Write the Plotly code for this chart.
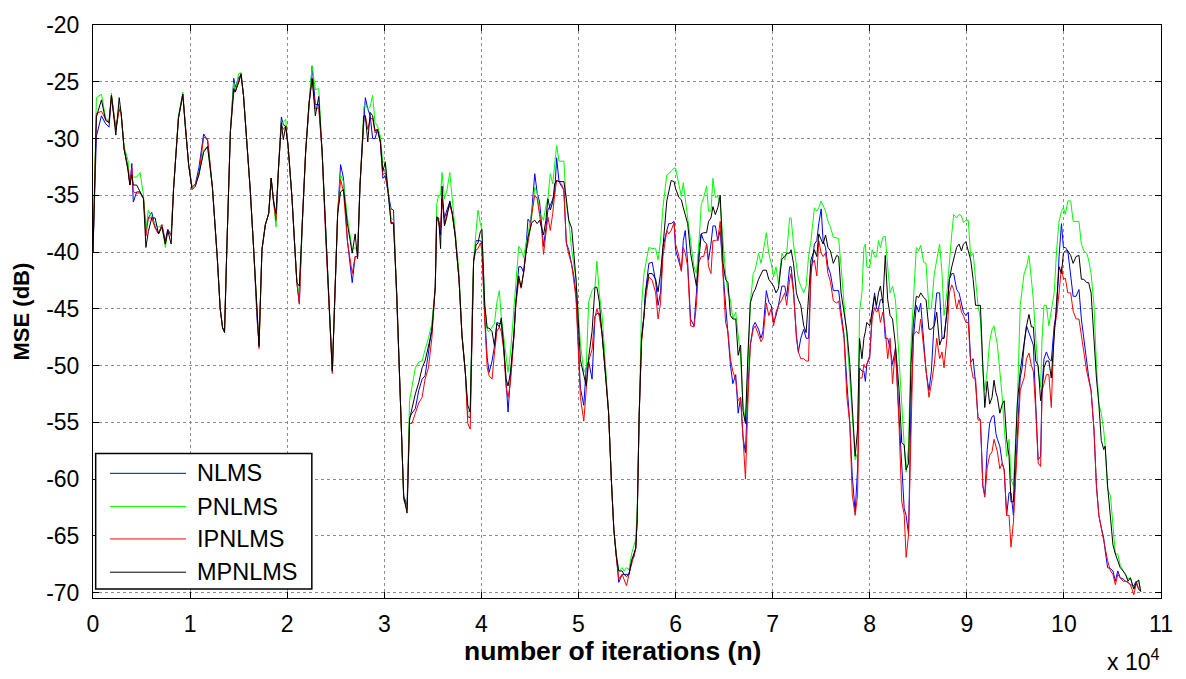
import plotly.graph_objects as go

# Iteration index of each MSE sample
n_iter = [
    0, 350, 870, 1300, 1650, 1900, 2350, 2700, 2900, 3200,
    3600, 3800, 4000, 4150, 4500, 4850, 5200, 5450, 5700, 6050,
    6400, 6750, 7100, 7450, 7700, 8050, 8300, 8800, 9250, 9500,
    9850, 10200, 10550, 10900, 11400, 11800, 12300, 12800, 13100, 13350,
    13550, 13800, 14150, 14500, 14650, 15000, 15250, 15500, 15850, 16200,
    16550, 16900, 17100, 17400, 17750, 18100, 18350, 18600, 18850, 19100,
    19400, 19600, 19850, 20100, 20500, 20800, 21000, 21250, 21550, 21900,
    22250, 22570, 22900, 23250, 23600, 23950, 24300, 24650, 24900, 25200,
    25500, 25800, 26200, 26700, 27000, 27250, 27500, 27900, 28050, 28300,
    28550, 28800, 29050, 29300, 29600, 29850, 30100, 30450, 30700, 30950,
    31300, 31650, 32000, 32350, 32600, 32850, 33200, 33550, 33900, 34200,
    34550, 34900, 35250, 35400, 35600, 35800, 35950, 36200, 36450, 36750,
    37000, 37300, 37700, 38000, 38350, 38600, 38850, 39050, 39200, 39450,
    39650, 39900, 40050, 40350, 40600, 40800, 41100, 41350, 41600, 41850,
    42050, 42300, 42550, 42750, 43000, 43350, 43550, 43850, 44100, 44350,
    44550, 44800, 45050, 45200, 45500, 45750, 46000, 46200, 46400, 46650,
    46850, 47100, 47350, 47550, 47750, 48000, 48250, 48500, 48750, 49000,
    49300, 49500, 49750, 50200, 50550, 50800, 51050, 51400, 51700, 51900,
    52150, 52450, 52800, 53100, 53400, 53650, 53900, 54150, 54500, 54700,
    54950, 55200, 55500, 55700, 55900, 56050, 56250, 56500, 56750, 56900,
    57250, 57600, 57950, 58200, 58450, 58700, 59100, 59300, 59550, 59850,
    60000, 60350, 60600, 60800, 61000, 61250, 61550, 61900, 62150, 62400,
    62650, 62900, 63200, 63400, 63650, 63850, 64100, 64350, 64600, 64900,
    65150, 65400, 65650, 65900, 66200, 66450, 66700, 66950, 67200, 67450,
    67700, 68000, 68200, 68550, 68800, 69000, 69350, 69600, 69850, 70100,
    70350, 70600, 70950, 71250, 71450, 71750, 71900, 72150, 72450, 72650,
    72900, 73200, 73450, 73700, 73950, 74300, 74550, 74750, 75000, 75200,
    75450, 75700, 75950, 76250, 76600, 76800, 77050, 77350, 77650, 77950,
    78200, 78500, 78750, 78950, 79200, 79400, 79550, 79700, 80000, 80250,
    80500, 80700, 80900, 81100, 81350, 81600, 81850, 82100, 82350, 82650,
    83000, 83300, 83550, 83750, 84000, 84250, 84500, 84800, 85050, 85250,
    85550, 85800, 86100, 86350, 86650, 86900, 87200, 87450, 87650, 87950,
    88200, 88450, 88650, 88950, 89200, 89450, 89650, 89900, 90150, 90400,
    90650, 90900, 91150, 91400, 91650, 91850, 92100, 92350, 92600, 92800,
    93000, 93150, 93400, 93650, 93850, 94100, 94350, 94550, 94800, 95200,
    95500, 95700, 95900, 96150, 96400, 96650, 96850, 97100, 97350, 97600,
    97750, 97950, 98200, 98450, 98700, 99000, 99250, 99500, 99750, 99950,
    100150, 100400, 100700, 100950, 101250, 101550, 101800, 102050, 102350, 102550,
    102800, 103100, 103350, 103600, 103850, 104100, 104250, 104500, 104800, 105050,
    105300, 105550, 105800, 106100, 106350, 106600, 106850, 107200, 107450, 107700,
    107900,
]

# MSE (dB) learning curves
nlms = [
    -40, -29.8, -28.0, -28.7, -29.0, -26.3, -29.2, -27.4, -27.8, -30.9,
    -32.5, -34.1, -32.2, -35.6, -34.7, -34.7, -35.3, -38.0, -37.0, -36.5,
    -37.8, -38.4, -37.6, -39.0, -38.0, -38.5, -34.4, -28.2, -26.1, -28.9,
    -32.3, -34.3, -34.0, -32.6, -29.6, -30.2, -34.3, -40.5, -45.0, -46.7,
    -46.8, -39.2, -29.4, -24.7, -25.5, -24.6, -24.5, -26.2, -30.4, -34.6,
    -39.8, -46.0, -48.0, -39.8, -37.6, -36.6, -33.5, -35.6, -37.3, -32.7,
    -28.1, -28.8, -28.9, -30.7, -35.3, -39.8, -42.7, -44.5, -37.5, -31.2,
    -26.9, -23.6, -27.0, -27.0, -31.2, -38.4, -44.2, -50.5, -44.0, -36.6,
    -32.3, -33.5, -39.0, -42.7, -40.4, -40.4, -34.1, -28.0, -26.4, -27.4,
    -28.0, -30.0, -30.0, -29.2, -30.3, -33.5, -33.3, -35.0, -36.2, -36.3,
    -44.0, -52.8, -61.5, -62.3, -54.6, -54.2, -53.8, -52.2, -51.2, -50.9,
    -48.9, -46.6, -43.1, -36.9, -37.3, -38.5, -35.3, -37.0, -36.3, -35.6,
    -36.6, -38.5, -42.4, -47.3, -50.6, -54.5, -54.6, -45.0, -40.8, -39.0,
    -39.0, -39.0, -39.2, -45.7, -49.3, -50.6, -49.6, -48.3, -46.2, -46.3,
    -46.3, -48.3, -51.5, -54.1, -50.9, -47.3, -44.4, -41.3, -41.3, -41.8,
    -40.2, -37.1, -37.4, -36.3, -33.1, -34.8, -35.6, -37.5, -39.5, -37.9,
    -36.3, -35.9, -35.3, -34.9, -31.7, -33.8, -34.2, -34.5, -39.2, -39.8,
    -41.1, -42.0, -43.7, -52.0, -53.5, -50.2, -49.6, -51.2, -45.7, -45.4,
    -45.4, -47.3, -50.6, -54.1, -60.3, -64.5, -66.8, -69.1, -68.4, -68.4,
    -68.4, -68.4, -67.1, -66.9, -66.1, -63.5, -54.5, -47.6, -45.6, -43.6,
    -41.0, -40.9, -42.6, -44.7, -43.6, -39.6, -38.1, -37.5, -37.5, -37.3,
    -39.8, -41.0, -41.6, -39.0, -38.1, -41.0, -45.9, -46.5, -43.6, -39.6,
    -38.4, -39.0, -39.3, -40.7, -39.3, -37.7, -37.7, -39.0, -38.1, -41.9,
    -44.7, -47.6, -49.9, -51.6, -50.8, -54.2, -52.8, -56.3, -57.7, -51.9,
    -48.2, -46.5, -46.2, -46.8, -47.6, -47.0, -43.4, -44.4, -44.7, -46.2,
    -45.6, -44.7, -43.0, -43.0, -43.9, -41.3, -41.3, -43.3, -47.6, -48.8,
    -47.6, -46.8, -47.6, -47.6, -41.9, -39.3, -39.0, -37.5, -36.2, -39.0,
    -39.6, -41.3, -41.9, -43.4, -43.4, -43.4, -45.3, -47.3, -51.6, -55.1,
    -59.7, -62.9, -59.1, -50.2, -50.5, -50.5, -51.4, -49.9, -49.3, -45.3,
    -43.6, -45.0, -45.0, -44.2, -44.2, -47.6, -47.6, -48.5, -49.9, -48.5,
    -54.2, -58.9, -62.6, -63.2, -64.9, -53.4, -47.6, -44.7, -45.3, -44.5,
    -47.6, -50.5, -52.2, -50.5, -45.9, -43.6, -43.6, -47.6, -47.6, -45.3,
    -42.4, -41.9, -41.9, -43.3, -43.6, -44.7, -45.3, -45.6, -45.3, -49.7,
    -49.4, -51.6, -54.5, -54.8, -60.6, -61.4, -57.4, -55.1, -54.5, -54.4,
    -56.0, -56.5, -57.1, -58.6, -59.2, -63.2, -61.2, -61.2, -63.2, -56.3,
    -51.1, -50.2, -48.2, -46.5, -47.1, -47.6, -48.2, -53.4, -58.3, -58.0,
    -52.0, -49.4, -48.8, -49.4, -49.6, -46.5, -45.3, -40.4, -37.5, -39.6,
    -39.6, -39.9, -42.3, -43.9, -43.9, -43.3, -45.9, -47.6, -50.0, -51.0,
    -52.2, -55.7, -60.6, -63.2, -64.3, -65.2, -66.3, -67.8, -67.9, -68.1,
    -69.0, -68.1, -68.7, -68.8, -69.0, -69.1, -69.3, -69.4, -69.0, -69.7,
    -69.9,
]

pnlms = [
    -40, -26.4, -26.1, -28.2, -28.5, -26.0, -29.2, -27.2, -27.8, -30.7,
    -31.9, -33.8, -33.3, -33.4, -33.4, -33.0, -35.0, -38.1, -36.3, -37.0,
    -37.6, -37.8, -37.6, -39.6, -38.2, -38.5, -34.4, -28.0, -25.9, -28.9,
    -32.3, -34.3, -34.0, -33.2, -31.0, -30.7, -34.3, -40.5, -45.0, -46.7,
    -47.1, -39.2, -29.4, -25.1, -25.9, -24.3, -24.2, -26.2, -30.4, -34.6,
    -39.8, -46.0, -48.3, -39.8, -37.6, -36.6, -33.5, -35.6, -37.8, -32.7,
    -28.6, -28.6, -28.3, -30.7, -35.3, -39.8, -42.7, -43.6, -37.5, -31.2,
    -26.9, -23.6, -25.7, -25.6, -31.2, -38.4, -44.2, -50.5, -44.0, -36.6,
    -33.2, -33.8, -37.0, -39.8, -39.6, -40.0, -34.1, -27.2, -27.0, -27.4,
    -27.2, -26.2, -28.6, -28.9, -29.8, -32.1, -32.0, -35.0, -37.0, -37.2,
    -44.0, -52.8, -61.9, -62.5, -53.1, -51.9, -50.2, -49.7, -49.6, -48.6,
    -47.6, -46.3, -43.1, -35.8, -35.0, -35.0, -33.0, -35.3, -34.6, -33.0,
    -35.3, -37.5, -41.8, -47.3, -50.6, -54.1, -54.0, -45.0, -40.8, -38.2,
    -36.3, -37.5, -38.0, -44.5, -46.9, -47.0, -46.6, -46.3, -44.4, -43.4,
    -45.7, -47.6, -49.6, -50.6, -48.9, -45.3, -43.0, -39.5, -39.8, -40.5,
    -39.5, -38.5, -37.1, -36.8, -34.3, -34.8, -36.6, -36.8, -37.2, -35.9,
    -35.3, -33.1, -34.0, -32.0, -30.6, -32.0, -32.0, -32.0, -35.8, -37.2,
    -39.8, -40.8, -42.4, -48.0, -50.6, -50.2, -44.4, -43.4, -43.1, -40.8,
    -43.7, -45.7, -50.6, -54.1, -60.3, -64.5, -66.5, -68.1, -67.8, -68.1,
    -67.8, -68.0, -66.5, -65.8, -65.3, -62.5, -53.0, -44.7, -41.9, -41.3,
    -39.6, -39.7, -39.7, -40.7, -39.0, -36.1, -33.2, -33.1, -32.9, -32.6,
    -32.6, -33.9, -35.1, -33.9, -35.1, -37.0, -39.0, -41.3, -41.9, -39.3,
    -35.8, -35.2, -34.2, -36.4, -36.4, -33.5, -35.2, -35.1, -35.8, -39.0,
    -41.9, -43.6, -44.2, -45.9, -45.3, -47.3, -49.3, -53.4, -55.1, -50.5,
    -44.5, -41.9, -41.6, -40.1, -41.0, -40.1, -38.3, -40.1, -41.0, -42.2,
    -41.3, -42.8, -40.1, -40.7, -40.1, -37.0, -37.0, -39.3, -41.3, -42.4,
    -43.0, -43.6, -43.0, -40.4, -39.0, -36.1, -36.4, -36.1, -35.5, -35.9,
    -36.4, -37.3, -37.8, -38.7, -38.8, -38.8, -41.3, -44.2, -47.6, -51.1,
    -54.0, -58.3, -57.7, -45.3, -43.6, -39.6, -39.3, -41.3, -41.4, -39.8,
    -40.4, -40.4, -39.0, -39.6, -38.7, -38.6, -41.3, -43.6, -43.0, -44.2,
    -49.1, -54.0, -57.0, -59.4, -57.1, -48.2, -44.7, -39.6, -39.9, -39.4,
    -40.9, -41.0, -45.0, -45.0, -41.9, -40.7, -39.3, -41.9, -45.6, -43.6,
    -40.7, -38.4, -36.7, -37.0, -36.7, -36.8, -37.4, -37.2, -37.2, -40.4,
    -40.1, -42.4, -44.7, -45.9, -50.5, -52.2, -50.5, -47.9, -46.8, -46.5,
    -47.7, -48.2, -50.5, -52.8, -55.4, -58.0, -56.5, -60.0, -60.6, -53.4,
    -44.7, -43.3, -41.9, -41.3, -40.3, -42.4, -44.2, -47.6, -50.5, -51.9,
    -47.6, -44.7, -44.7, -46.5, -45.0, -43.6, -39.8, -37.3, -36.4, -36.1,
    -36.7, -35.5, -35.5, -37.3, -37.3, -37.3, -39.3, -39.9, -40.1, -40.7,
    -41.9, -44.7, -49.9, -53.4, -54.2, -55.7, -57.1, -60.9, -61.5, -64.3,
    -66.6, -66.6, -67.6, -68.1, -68.4, -68.8, -68.7, -69.7, -69.1, -68.9,
    -69.9,
]

ipnlms = [
    -40, -27.8, -27.6, -28.3, -28.6, -26.2, -29.2, -27.4, -27.8, -30.9,
    -32.6, -34.1, -32.6, -34.7, -34.8, -34.8, -35.3, -38.6, -37.0, -37.0,
    -37.9, -38.4, -37.6, -39.3, -38.1, -38.6, -34.4, -28.2, -26.1, -28.9,
    -32.3, -34.3, -34.0, -33.2, -29.9, -30.0, -34.3, -40.5, -45.0, -46.7,
    -46.9, -39.2, -29.4, -25.9, -25.9, -24.9, -24.3, -26.2, -30.4, -34.6,
    -39.8, -46.0, -48.5, -39.8, -37.6, -36.6, -33.5, -35.6, -37.2, -32.7,
    -28.8, -29.2, -28.9, -30.7, -35.3, -39.8, -42.7, -44.6, -37.5, -31.2,
    -26.9, -24.7, -27.4, -27.3, -31.2, -38.4, -44.2, -50.7, -44.0, -36.6,
    -33.6, -34.7, -39.0, -41.9, -40.4, -40.4, -34.1, -28.0, -28.0, -29.2,
    -28.3, -28.2, -29.5, -29.2, -30.3, -33.2, -33.0, -35.0, -37.4, -37.4,
    -44.0, -52.8, -61.6, -62.7, -55.1, -55.1, -54.1, -53.3, -52.8, -51.2,
    -50.2, -47.6, -43.1, -37.2, -37.3, -37.9, -35.3, -37.6, -36.6, -35.9,
    -36.6, -38.5, -42.4, -47.3, -50.6, -55.1, -55.6, -45.0, -40.8, -39.8,
    -39.7, -39.2, -39.8, -46.0, -50.2, -50.9, -51.2, -48.9, -47.0, -46.6,
    -47.0, -48.6, -51.9, -52.8, -51.5, -47.6, -44.7, -42.4, -43.2, -41.8,
    -40.2, -39.2, -37.9, -36.6, -35.0, -35.3, -36.6, -37.9, -40.2, -38.5,
    -36.9, -38.1, -36.6, -34.9, -33.7, -33.8, -34.0, -34.6, -39.2, -40.2,
    -41.1, -42.4, -44.1, -52.8, -54.9, -52.1, -49.6, -48.6, -45.7, -45.0,
    -45.7, -47.3, -50.6, -54.1, -60.3, -64.5, -66.8, -68.8, -68.4, -68.8,
    -69.4, -68.4, -67.4, -66.6, -66.1, -63.5, -54.5, -48.0, -46.0, -44.2,
    -42.2, -42.5, -43.6, -45.9, -44.5, -40.4, -38.1, -38.4, -38.1, -37.4,
    -39.3, -40.4, -41.7, -39.6, -40.1, -41.3, -46.5, -46.6, -44.7, -40.9,
    -40.4, -40.4, -39.3, -41.3, -41.9, -39.0, -39.0, -38.9, -37.3, -41.9,
    -46.2, -47.0, -49.4, -50.5, -51.3, -53.1, -52.8, -56.3, -60.0, -53.4,
    -48.2, -46.8, -46.5, -47.3, -47.9, -47.6, -44.5, -45.6, -45.0, -46.5,
    -45.3, -44.7, -44.2, -43.6, -44.7, -42.4, -41.9, -43.6, -47.3, -48.8,
    -49.4, -49.4, -49.6, -49.6, -41.3, -40.7, -42.1, -39.0, -40.1, -40.4,
    -40.1, -41.9, -42.6, -44.3, -44.5, -44.3, -45.9, -47.6, -52.8, -55.1,
    -61.4, -63.2, -61.4, -51.1, -51.1, -49.9, -50.2, -49.9, -49.1, -45.9,
    -44.9, -45.3, -45.0, -46.2, -45.3, -46.8, -49.4, -47.6, -51.6, -48.4,
    -54.8, -62.0, -63.1, -66.9, -64.9, -56.3, -47.3, -47.0, -47.2, -45.9,
    -48.2, -50.5, -52.8, -51.6, -49.9, -47.6, -49.4, -48.8, -50.2, -47.6,
    -43.6, -42.9, -43.3, -45.0, -44.2, -45.3, -45.6, -46.2, -46.2, -49.9,
    -51.1, -51.1, -54.8, -54.8, -60.6, -61.6, -59.0, -57.9, -57.6, -56.5,
    -57.3, -57.6, -59.1, -58.6, -59.2, -63.2, -63.2, -66.0, -63.8, -57.2,
    -52.2, -51.6, -51.1, -49.4, -48.9, -50.0, -50.5, -54.0, -58.6, -58.9,
    -52.2, -51.6, -50.8, -50.8, -53.7, -46.8, -45.6, -43.6, -41.3, -42.4,
    -42.3, -43.6, -43.6, -45.2, -45.9, -45.9, -47.6, -48.8, -50.5, -51.4,
    -52.2, -55.7, -60.6, -63.2, -64.3, -65.5, -66.3, -67.2, -68.1, -68.4,
    -69.3, -68.4, -68.7, -69.0, -69.0, -69.1, -69.3, -70.2, -69.2, -69.7,
    -69.9,
]

mpnlms = [
    -40, -28.1, -26.6, -28.4, -28.6, -26.2, -29.7, -26.4, -27.8, -30.9,
    -32.8, -34.1, -33.2, -34.1, -34.1, -34.7, -35.3, -39.6, -38.2, -37.0,
    -37.0, -38.4, -37.8, -39.3, -38.1, -39.3, -34.4, -28.2, -26.1, -28.9,
    -32.3, -34.5, -34.2, -33.2, -31.2, -30.7, -34.3, -40.5, -45.0, -46.7,
    -47.1, -39.2, -29.4, -25.6, -25.9, -25.1, -24.3, -26.2, -30.4, -34.6,
    -39.8, -46.0, -48.3, -39.8, -37.6, -36.6, -33.5, -35.6, -36.6, -32.7,
    -28.6, -30.1, -28.9, -30.7, -35.3, -39.8, -42.7, -43.0, -37.5, -31.2,
    -26.9, -24.7, -28.0, -26.3, -31.2, -38.4, -44.2, -50.5, -44.0, -36.6,
    -34.7, -34.5, -37.5, -40.1, -38.4, -40.6, -34.1, -28.0, -28.0, -30.3,
    -27.7, -28.0, -29.3, -29.2, -30.3, -32.9, -32.1, -35.0, -37.5, -37.5,
    -44.0, -52.8, -61.6, -63.0, -54.8, -53.8, -52.5, -51.5, -50.2, -49.6,
    -48.3, -47.0, -43.1, -36.9, -37.0, -39.7, -34.2, -37.7, -36.9, -35.5,
    -36.6, -38.5, -42.4, -47.3, -50.6, -53.5, -54.1, -45.0, -40.8, -39.4,
    -39.2, -38.2, -38.0, -44.7, -46.7, -46.7, -47.0, -48.3, -46.3, -46.6,
    -45.8, -48.3, -51.2, -51.8, -50.6, -47.3, -44.4, -42.1, -43.1, -41.8,
    -40.2, -38.7, -37.9, -37.4, -37.2, -37.5, -37.2, -37.9, -38.5, -37.2,
    -35.3, -36.3, -35.6, -34.0, -33.7, -33.8, -33.8, -33.8, -35.3, -37.2,
    -37.9, -40.0, -42.4, -49.5, -50.9, -51.8, -49.3, -47.0, -43.1, -43.1,
    -44.4, -47.3, -50.6, -54.1, -60.3, -64.5, -66.8, -68.1, -68.1, -68.4,
    -68.6, -68.4, -67.1, -66.6, -66.1, -63.5, -54.5, -47.6, -45.6, -43.6,
    -41.9, -41.9, -42.4, -43.5, -41.9, -39.6, -35.5, -34.7, -33.7, -33.8,
    -34.4, -35.2, -35.4, -36.1, -36.7, -37.5, -40.1, -41.9, -43.0, -40.7,
    -38.4, -38.3, -38.3, -37.3, -37.0, -36.0, -36.7, -36.1, -35.0, -41.0,
    -42.4, -42.7, -45.6, -45.9, -45.9, -49.1, -48.2, -54.0, -55.1, -49.1,
    -44.5, -43.6, -43.3, -42.4, -41.9, -41.6, -41.6, -42.4, -42.7, -43.0,
    -43.6, -43.2, -40.6, -40.4, -40.1, -40.1, -39.8, -41.0, -43.6, -44.2,
    -44.7, -46.5, -47.1, -43.6, -40.7, -39.8, -40.4, -38.4, -38.9, -39.3,
    -38.5, -39.6, -39.9, -41.0, -40.3, -40.4, -43.6, -45.3, -47.0, -49.9,
    -54.0, -58.0, -55.6, -47.6, -49.4, -47.6, -47.0, -46.2, -46.5, -45.3,
    -43.9, -44.7, -43.6, -43.0, -44.5, -40.3, -44.2, -45.6, -45.9, -48.2,
    -51.9, -56.8, -57.0, -59.2, -58.6, -49.9, -46.2, -43.9, -44.0, -43.6,
    -44.0, -44.2, -46.8, -46.8, -46.5, -45.3, -48.2, -47.6, -47.6, -45.3,
    -42.4, -41.3, -40.7, -39.6, -39.3, -39.9, -39.3, -39.1, -39.9, -40.7,
    -42.4, -44.7, -44.7, -44.7, -50.0, -53.7, -51.4, -53.4, -52.8, -51.3,
    -52.4, -52.8, -54.2, -53.4, -53.1, -56.5, -58.0, -62.0, -62.0, -53.4,
    -50.5, -49.3, -48.2, -46.5, -45.5, -46.6, -46.6, -49.6, -50.0, -53.1,
    -52.2, -50.2, -49.6, -49.6, -51.1, -47.6, -44.7, -41.3, -41.9, -40.1,
    -39.9, -39.9, -40.3, -41.0, -40.4, -40.3, -42.4, -42.4, -42.7, -42.7,
    -43.6, -47.6, -51.1, -53.4, -56.6, -57.4, -57.1, -60.6, -63.2, -65.8,
    -66.6, -67.2, -67.8, -68.1, -68.4, -69.0, -68.7, -69.7, -69.1, -68.9,
    -69.9,
]

series_names = ["NLMS", "PNLMS", "IPNLMS", "MPNLMS"]
series_colors = ["#0000ff", "#00ff00", "#ff0000", "#000000"]
series_values = [nlms, pnlms, ipnlms, mpnlms]

x_tick_values = [k * 10000 for k in range(12)]
x_tick_labels = [str(k) for k in range(12)]
y_tick_values = [-70, -65, -60, -55, -50, -45, -40, -35, -30, -25, -20]
y_tick_labels = ["-70", "-65", "-60", "-55", "-50", "-45", "-40", "-35", "-30", "-25", "-20"]

FONT = "Liberation Sans, Arial, Helvetica, sans-serif"
TICK_SIZE = 23

fig = go.Figure()
for name, values, color in zip(series_names, series_values, series_colors):
    fig.add_trace(go.Scatter(
        x=n_iter, y=values, mode="lines", name=name,
        line=dict(color=color, width=1), showlegend=False,
    ))

axis_common = dict(
    showline=True, linecolor="black", linewidth=1, mirror="ticks",
    ticks="inside", ticklen=6, tickcolor="black", tickwidth=1,
    showgrid=True, gridcolor="#8c8c8c", griddash="dot", gridwidth=1,
    zeroline=False, tickfont=dict(family=FONT, size=TICK_SIZE, color="black"),
)

fig.update_layout(
    width=1186, height=679,
    margin=dict(l=93, r=25, t=13, b=81),
    paper_bgcolor="white", plot_bgcolor="white",
    font=dict(family=FONT, color="black"),
    xaxis=dict(range=[0, 110000], tickmode="array", tickvals=x_tick_values,
               ticktext=x_tick_labels, ticklabelstandoff=5, **axis_common),
    yaxis=dict(range=[-70.48, -20], tickmode="array", tickvals=y_tick_values,
               ticktext=y_tick_labels, ticklabelstandoff=8, **axis_common),
)

# Axis titles and the x-axis exponent
annotations = [
    dict(text="MSE (dB)", x=-0.0665, y=0.5, xref="paper", yref="paper",
         textangle=-90, showarrow=False, xanchor="center", yanchor="middle",
         font=dict(family=FONT, size=22, weight="bold")),
    dict(text="number of iterations (n)", x=0.4863, y=-0.0918, xref="paper", yref="paper",
         showarrow=False, xanchor="center", yanchor="middle",
         font=dict(family=FONT, size=26.5, weight="bold")),
    dict(text="x 10<sup>4</sup>", x=1.0, y=-0.108, xref="paper", yref="paper",
         showarrow=False, xanchor="right", yanchor="middle",
         font=dict(family=FONT, size=TICK_SIZE)),
]

# Boxed legend in the lower-left corner
shapes = [dict(type="rect", xref="paper", yref="paper",
               x0=0.0025, x1=0.2049, y0=0.0159, y1=0.2523,
               line=dict(color="black", width=1.5), fillcolor="white", layer="above")]
row_y = [0.2176, 0.1595, 0.1031, 0.0450]
for name, color, yy in zip(series_names, series_colors, row_y):
    shapes.append(dict(type="line", xref="paper", yref="paper",
                       x0=0.0159, x1=0.0871, y0=yy, y1=yy,
                       line=dict(color=color, width=1), layer="above"))
    annotations.append(dict(text=name, x=0.0956, y=yy, xref="paper", yref="paper",
                            showarrow=False, xanchor="left", yanchor="middle",
                            font=dict(family=FONT, size=23.5, color="black")))

fig.update_layout(shapes=shapes, annotations=annotations)

fig.write_html("out.html")
